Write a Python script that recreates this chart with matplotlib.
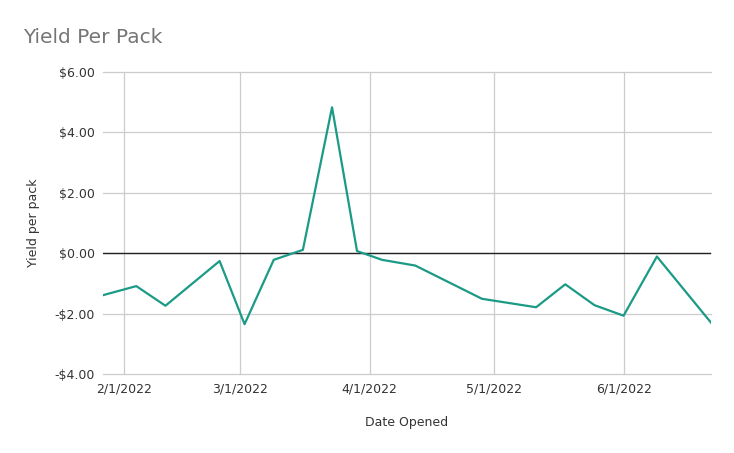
import matplotlib
matplotlib.use("Agg")
import matplotlib.dates as mdates
import matplotlib.pyplot as plt
import matplotlib.ticker as mticker
import pandas as pd

dates = [
    "2022-01-27", "2022-02-04", "2022-02-11", "2022-02-24", "2022-03-02",
    "2022-03-09", "2022-03-16", "2022-03-23", "2022-03-29", "2022-04-04",
    "2022-04-12", "2022-04-28", "2022-05-11", "2022-05-18", "2022-05-25",
    "2022-06-01", "2022-06-09", "2022-06-22",
]
yield_per_pack = [
    -1.39, -1.09, -1.74, -0.26, -2.35,
    -0.22, 0.11, 4.83, 0.07, -0.22,
    -0.41, -1.51, -1.79, -1.03, -1.72,
    -2.07, -0.11, -2.30,
]
x_ticks = ["2022-02-01", "2022-03-01", "2022-04-01", "2022-05-01", "2022-06-01"]

df = pd.DataFrame({"date": pd.to_datetime(dates), "yield": yield_per_pack})

plt.rcParams["font.family"] = "DejaVu Sans"

fig = plt.figure(figsize=(7.34, 4.53), dpi=100)
ax = fig.add_axes([0.1403, 0.1744, 0.8284, 0.6667])

ax.plot(df["date"], df["yield"], color="#1b9a86", linewidth=1.6, zorder=3)
ax.axhline(0, color="#222222", linewidth=1.0, zorder=2)

ax.set_xlim(df["date"].min(), df["date"].max())
ax.set_ylim(-4, 6)
ax.yaxis.set_major_locator(mticker.MultipleLocator(2))
ax.yaxis.set_major_formatter(
    mticker.FuncFormatter(lambda v, _: f"-${abs(v):.2f}" if v < 0 else f"${v:.2f}")
)
ax.set_xticks(pd.to_datetime(x_ticks))
ax.xaxis.set_major_formatter(mdates.DateFormatter("%-m/%-d/%Y"))

ax.grid(True, color="#cccccc", linewidth=0.9)
ax.set_axisbelow(True)
for line in ax.get_ygridlines() + ax.get_xgridlines():
    line.set_clip_on(False)
for s in ax.spines.values():
    s.set_visible(False)
ax.tick_params(length=0, labelsize=9, labelcolor="#333333", pad=6)

ax.set_xlabel("Date Opened", fontsize=9, color="#333333", labelpad=15)
ax.set_ylabel("Yield per pack", fontsize=9, color="#333333", labelpad=10)
fig.text(0.031, 0.918, "Yield Per Pack", fontsize=14.5, color="#757575", va="center")

fig.savefig("out.png", dpi=100)
plt.close(fig)
